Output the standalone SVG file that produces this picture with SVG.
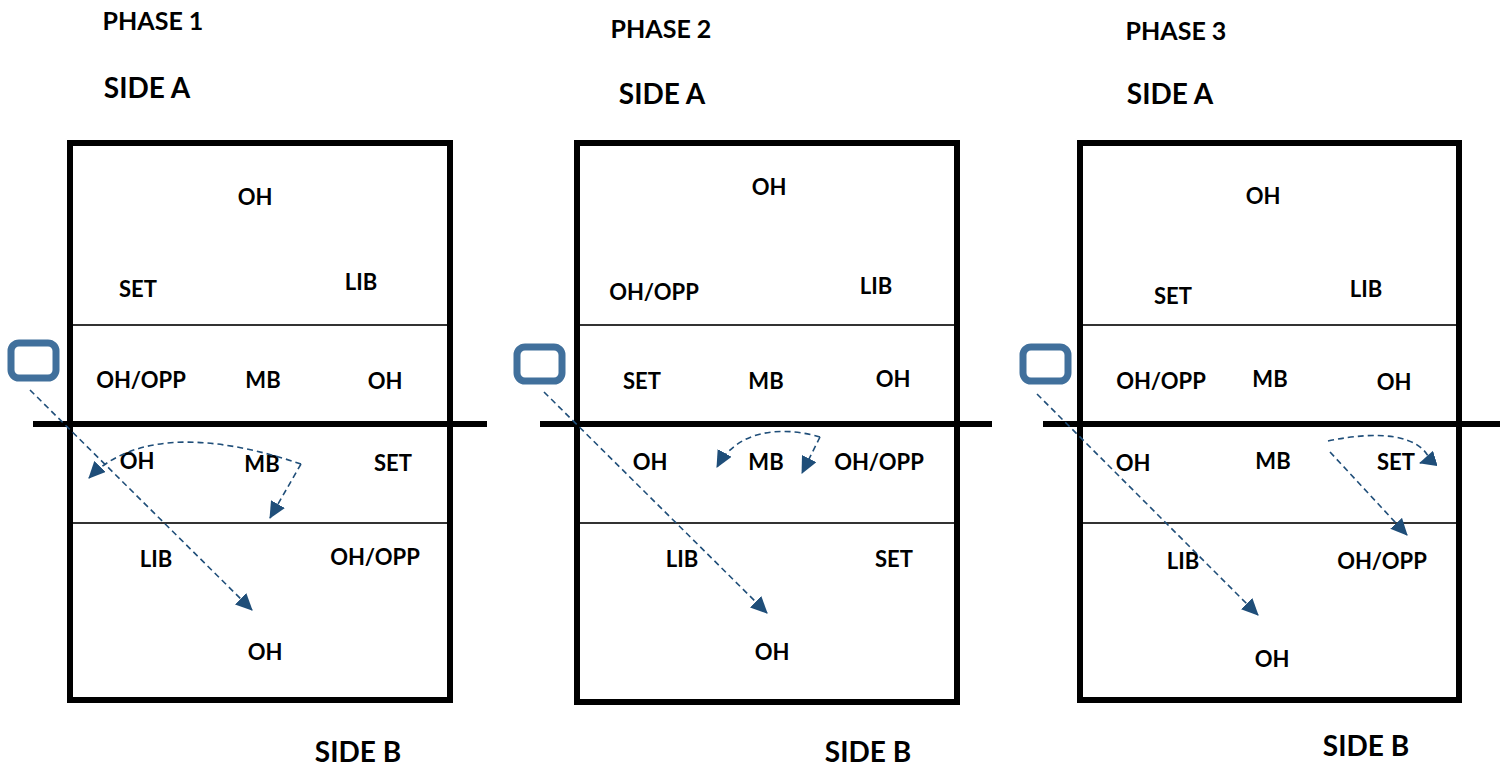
<svg xmlns="http://www.w3.org/2000/svg" width="1501" height="765" viewBox="0 0 1501 765">
<style>
.t{font-family:Lato,"Liberation Sans",sans-serif;font-weight:bold;fill:#000;text-anchor:middle}
.lbl{font-size:22px}
.side{font-size:28px}
.ph{font-size:25px}
.court{fill:none;stroke:#000;stroke-width:6}
.thin{stroke:#333;stroke-width:2.2}
.net{stroke:#000;stroke-width:6}
.srv{fill:none;stroke:#41709C;stroke-width:7}
.mv{fill:none;stroke:#1F4E79;stroke-width:1.6;stroke-dasharray:6 4}
</style>
<defs>
<marker id="ah" markerUnits="userSpaceOnUse" markerWidth="18" markerHeight="16" refX="16" refY="8" orient="auto">
<path d="M0,0 L17,8 L0,16 Z" fill="#1F4E79"/>
</marker>
</defs>
<rect width="1501" height="765" fill="#fff"/>

<g id="court1">
<rect class="court" x="70" y="143" width="380" height="557"/>
<line class="thin" x1="73" y1="325" x2="447" y2="325"/>
<line class="thin" x1="73" y1="523" x2="447" y2="523"/>
<line class="net" x1="33" y1="424" x2="487" y2="424"/>
<rect class="srv" x="11" y="343" width="45" height="35" rx="8"/>
</g>
<g id="court2">
<rect class="court" x="577" y="143" width="380" height="559"/>
<line class="thin" x1="580" y1="325" x2="954" y2="325"/>
<line class="thin" x1="580" y1="523" x2="954" y2="523"/>
<line class="net" x1="540" y1="424" x2="992" y2="424"/>
<rect class="srv" x="517" y="347" width="45" height="34" rx="8"/>
</g>
<g id="court3">
<rect class="court" x="1080" y="143" width="379" height="557"/>
<line class="thin" x1="1083" y1="325" x2="1456" y2="325"/>
<line class="thin" x1="1083" y1="523" x2="1456" y2="523"/>
<line class="net" x1="1043" y1="424" x2="1500" y2="424"/>
<rect class="srv" x="1023" y="347" width="45" height="34" rx="8"/>
</g>

<g id="labels1">
<text class="t ph" x="153" y="30">PHASE 1</text>
<text class="t side" x="147" y="98">SIDE A</text>
<text class="t lbl" x="255" y="205">OH</text>
<text class="t lbl" x="138" y="297">SET</text>
<text class="t lbl" x="361" y="290">LIB</text>
<text class="t lbl" x="141" y="388">OH/OPP</text>
<text class="t lbl" x="263" y="388">MB</text>
<text class="t lbl" x="385" y="389">OH</text>
<text class="t lbl" x="137" y="469">OH</text>
<text class="t lbl" x="262" y="472">MB</text>
<text class="t lbl" x="393" y="471">SET</text>
<text class="t lbl" x="156" y="567">LIB</text>
<text class="t lbl" x="375" y="565">OH/OPP</text>
<text class="t lbl" x="265" y="660">OH</text>
<text class="t side" x="358" y="762">SIDE B</text>
</g>
<g id="labels2">
<text class="t ph" x="661" y="38">PHASE 2</text>
<text class="t side" x="662" y="104">SIDE A</text>
<text class="t lbl" x="769" y="195">OH</text>
<text class="t lbl" x="654" y="300">OH/OPP</text>
<text class="t lbl" x="876" y="294">LIB</text>
<text class="t lbl" x="642" y="389">SET</text>
<text class="t lbl" x="766" y="389">MB</text>
<text class="t lbl" x="893" y="387">OH</text>
<text class="t lbl" x="650" y="470">OH</text>
<text class="t lbl" x="766" y="470">MB</text>
<text class="t lbl" x="879" y="470">OH/OPP</text>
<text class="t lbl" x="682" y="567">LIB</text>
<text class="t lbl" x="894" y="567">SET</text>
<text class="t lbl" x="772" y="660">OH</text>
<text class="t side" x="868" y="762">SIDE B</text>
</g>
<g id="labels3">
<text class="t ph" x="1176" y="40">PHASE 3</text>
<text class="t side" x="1170" y="104">SIDE A</text>
<text class="t lbl" x="1263" y="204">OH</text>
<text class="t lbl" x="1173" y="304">SET</text>
<text class="t lbl" x="1366" y="297">LIB</text>
<text class="t lbl" x="1161" y="389">OH/OPP</text>
<text class="t lbl" x="1270" y="387">MB</text>
<text class="t lbl" x="1394" y="390">OH</text>
<text class="t lbl" x="1133" y="471">OH</text>
<text class="t lbl" x="1273" y="469">MB</text>
<text class="t lbl" x="1396" y="470">SET</text>
<text class="t lbl" x="1183" y="569">LIB</text>
<text class="t lbl" x="1382" y="569">OH/OPP</text>
<text class="t lbl" x="1272" y="667">OH</text>
<text class="t side" x="1366" y="756">SIDE B</text>
</g>

<g id="connectors">
<path class="mv" marker-end="url(#ah)" d="M30,390 L252,610"/>
<path class="mv" marker-end="url(#ah)" d="M301,464 C230,440 140,425 89,478"/>
<path class="mv" marker-end="url(#ah)" d="M301,464 L270,518"/>
<path class="mv" marker-end="url(#ah)" d="M544,392 L767,613"/>
<path class="mv" marker-end="url(#ah)" d="M820,437 C790,428 740,425 717,467"/>
<path class="mv" marker-end="url(#ah)" d="M820,437 L802,473"/>
<path class="mv" marker-end="url(#ah)" d="M1037,394 L1258,615"/>
<path class="mv" marker-end="url(#ah)" d="M1328,441 C1380,430 1420,435 1430,460 L1420,463"/>
<path class="mv" marker-end="url(#ah)" d="M1330,452 L1407,535"/>
</g>
</svg>
